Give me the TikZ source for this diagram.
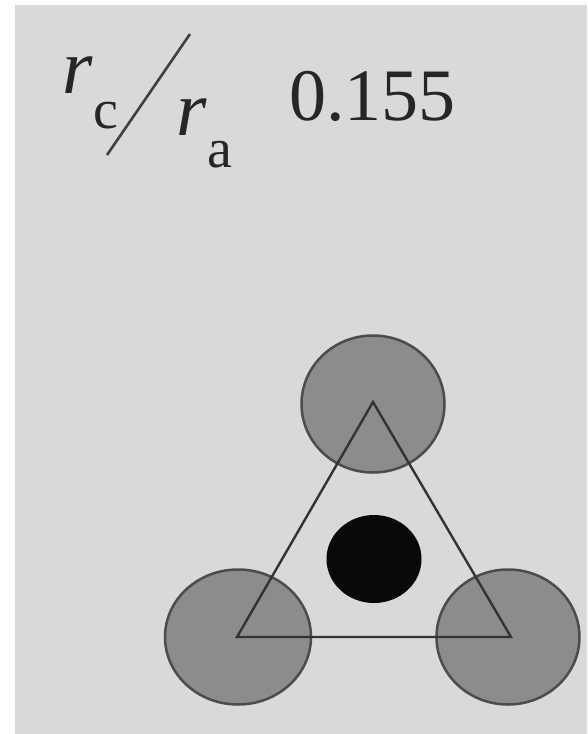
\documentclass[tikz,border=0pt]{standalone}
\usepackage{fontspec}
\setmainfont{Liberation Serif}
\usetikzlibrary{shapes.geometric}
\begin{document}
\begin{tikzpicture}[x=1pt,y=-1pt,
  anion/.style={ellipse,draw=black!70,line width=2.5pt,fill=black!45,inner sep=0pt},
  cation/.style={ellipse,fill=black!97,draw=none,inner sep=0pt},
  tri/.style={draw=black!80,line width=2.4pt,line join=miter},
  txt/.style={inner sep=0pt,anchor=base west,text=black!85}]
\useasboundingbox (0,0) rectangle (587,734);
\fill[white] (0,0) rectangle (587,734);
\fill[black!15] (15,5) rectangle (587,734);
% labels
\node[txt,font=\fontsize{78}{78}\selectfont\itshape] (r1) at (62,93) {r};
\node[txt,font=\fontsize{56}{56}\selectfont] (c1) at (93,128) {c};
\node[txt,font=\fontsize{78}{78}\selectfont\itshape] (r2) at (176,135) {r};
\node[txt,font=\fontsize{56}{56}\selectfont] (a1) at (207,167) {a};
\coordinate (s1) at (107,155);
\coordinate (s2) at (190,34);
\draw[black!75,line width=2.6pt] (s1) -- (s2);
\node[txt,font=\fontsize{74}{74}\selectfont] (val) at (289,120) {0.155};
% structure
\node[anion,minimum width=143pt,minimum height=137pt] (t) at (373,404) {};
\node[anion,minimum width=146pt,minimum height=135pt] (bl) at (238,637) {};
\node[anion,minimum width=143pt,minimum height=135pt] (br) at (508,637) {};
\coordinate (v1) at (373,402);
\coordinate (v2) at (237,637);
\coordinate (v3) at (511,637);
\draw[tri] (v1) -- (v2) -- (v3) -- cycle;
\node[cation,minimum width=95pt,minimum height=88pt] (cat) at (374,559) {};
\end{tikzpicture}
\end{document}
